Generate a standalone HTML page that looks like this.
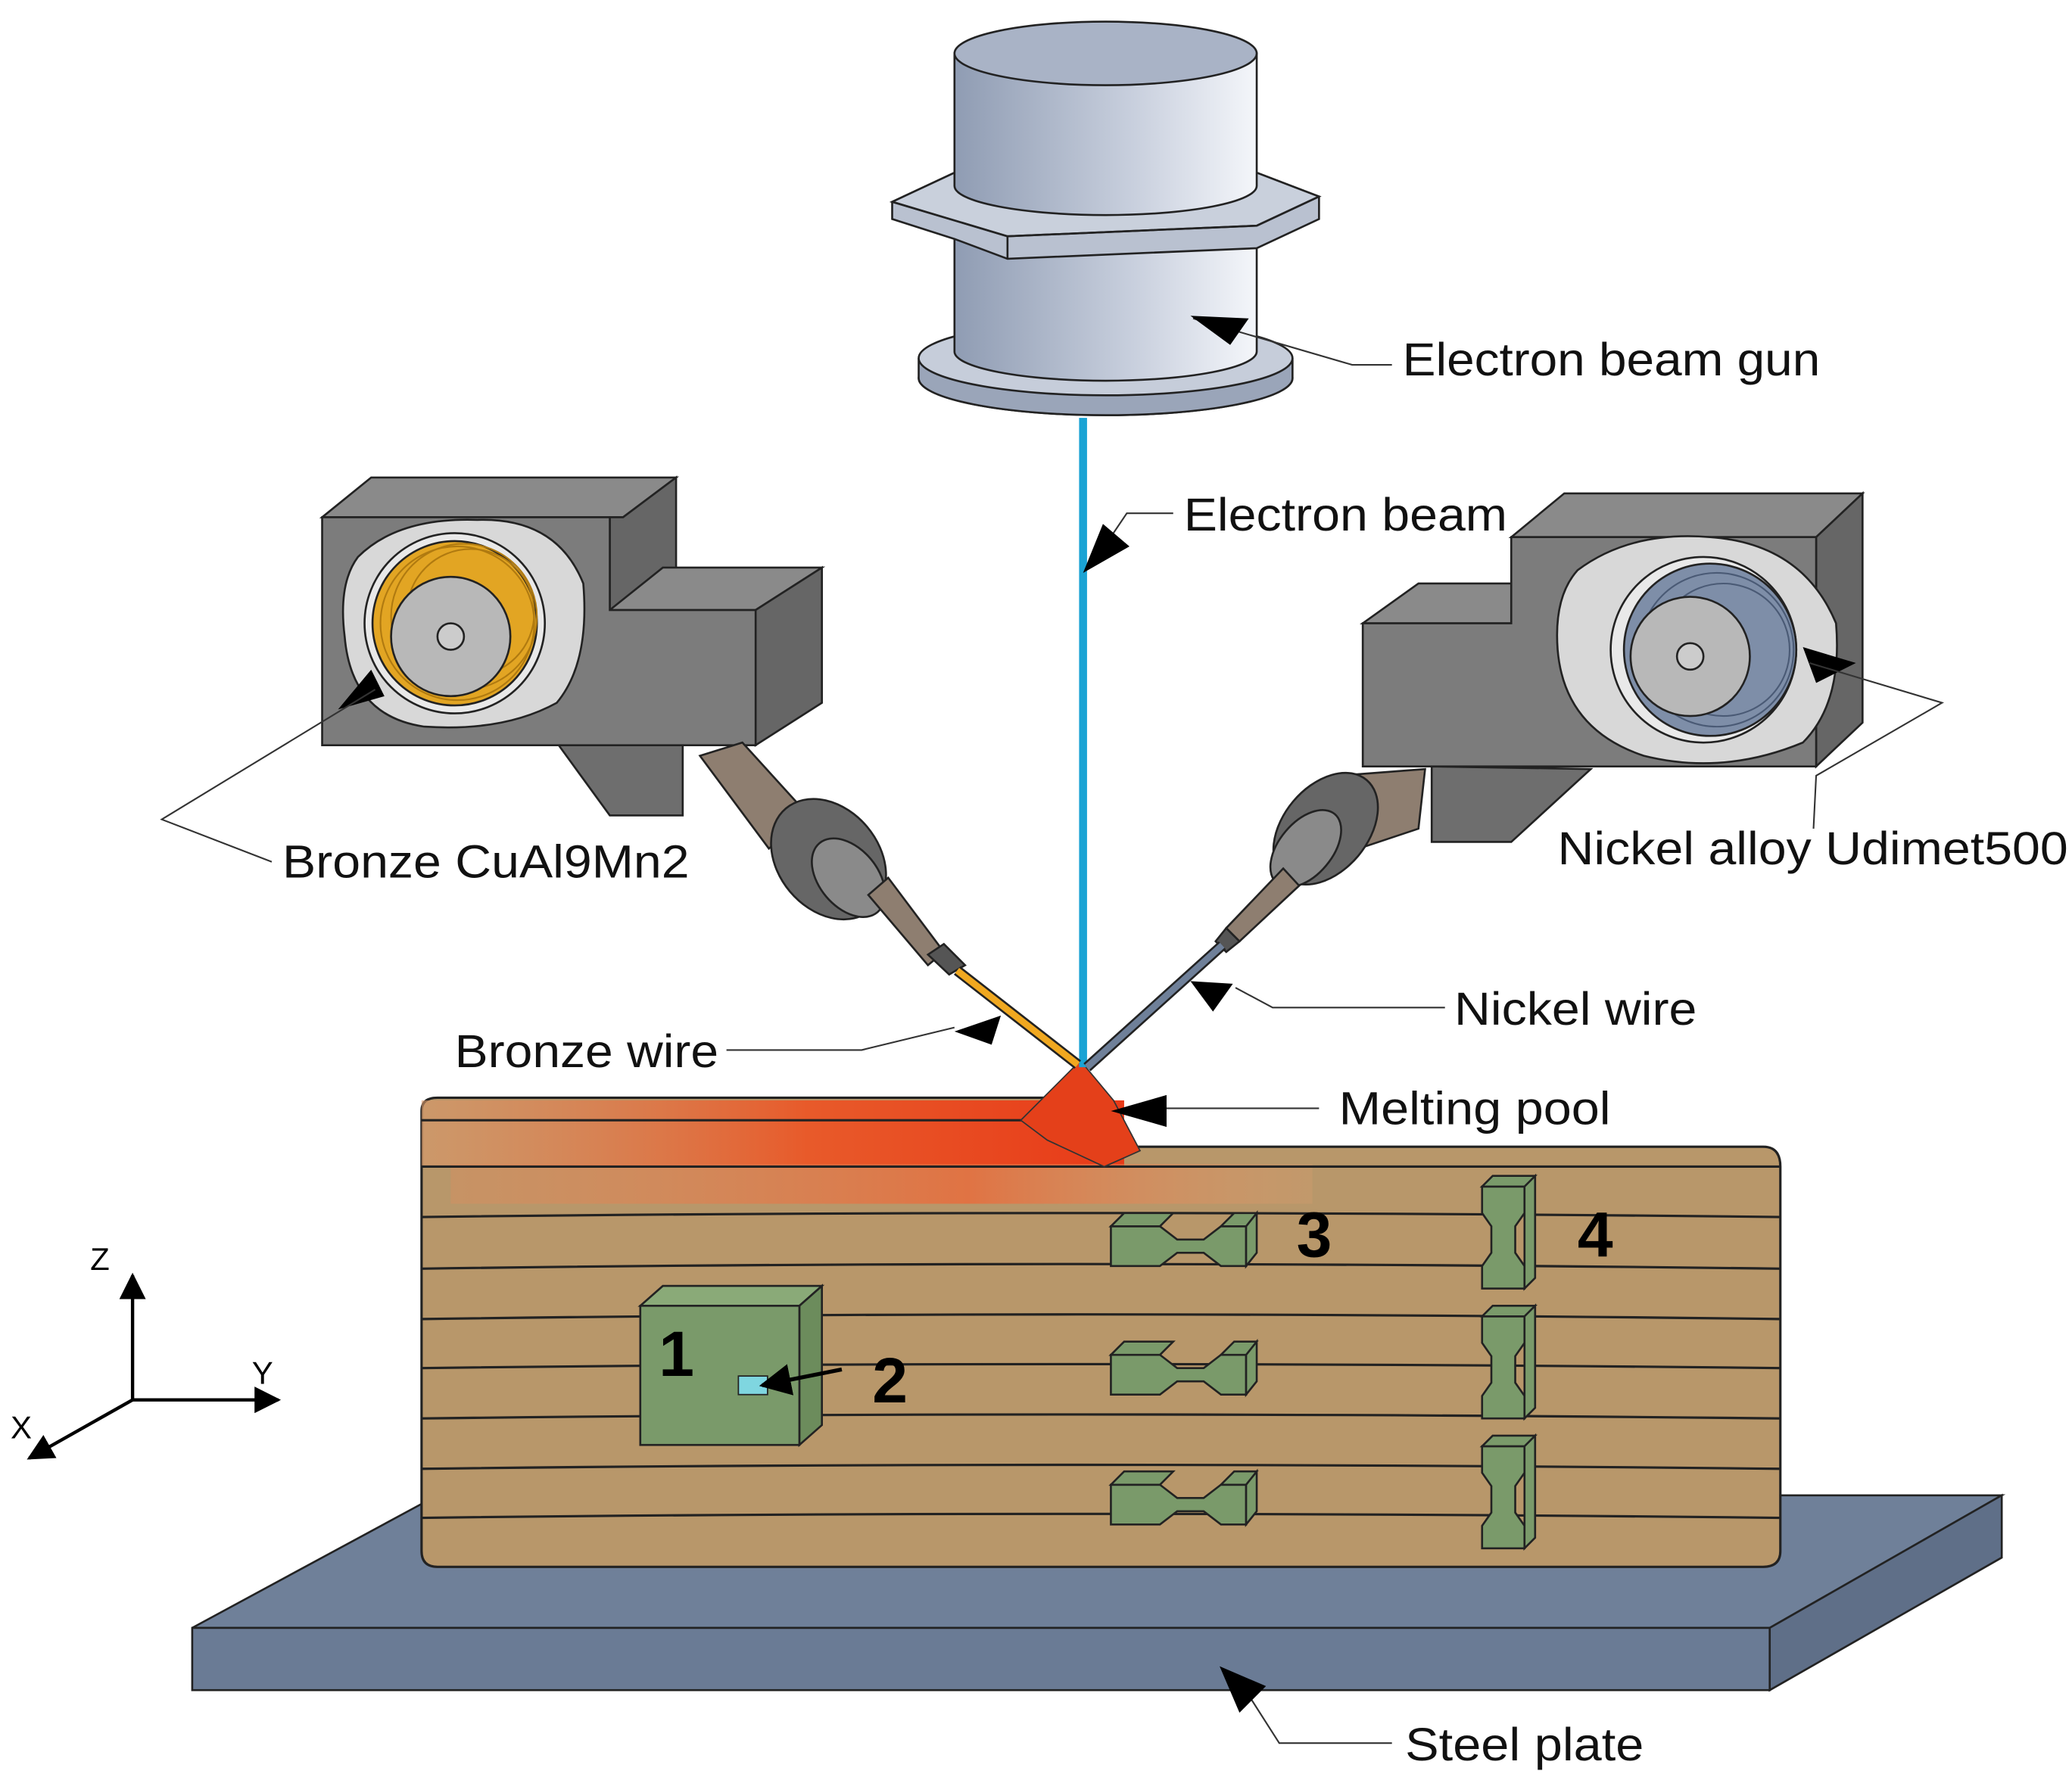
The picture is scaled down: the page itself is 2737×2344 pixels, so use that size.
<!DOCTYPE html>
<html><head><meta charset="utf-8"><style>
html,body{margin:0;padding:0;background:#fff;}
svg{display:block;}
text{font-family:"Liberation Sans",sans-serif;}
</style></head><body>
<svg width="2737" height="2344" viewBox="0 0 1563 1338" xmlns="http://www.w3.org/2000/svg">
<defs>
<linearGradient id="cyl" x1="0" x2="1"><stop offset="0" stop-color="#8f9cb3"/><stop offset="0.6" stop-color="#c9d0de"/><stop offset="1" stop-color="#f4f6fa"/></linearGradient>
<linearGradient id="hot" x1="0" x2="1"><stop offset="0" stop-color="#d9996a" stop-opacity="0.6"/><stop offset="0.55" stop-color="#e85a2a"/><stop offset="1" stop-color="#e83a18"/></linearGradient>
<linearGradient id="hot2" x1="0" x2="1"><stop offset="0" stop-color="#e88a5a" stop-opacity="0.3"/><stop offset="0.6" stop-color="#ea6a3a" stop-opacity="0.8"/><stop offset="1" stop-color="#e8a070" stop-opacity="0.2"/></linearGradient>
<marker id="ah" viewBox="0 0 10 10" refX="9" refY="5" markerWidth="8" markerHeight="8" orient="auto"><path d="M0,0L10,5L0,10z" fill="#000"/></marker>
</defs>
<rect width="1563" height="1338" fill="#fff"/>

<!-- steel plate -->
<polygon points="145,1228 330,1128 1510,1128 1335,1228" fill="#6f8099" stroke="#222" stroke-width="1.5"/>
<polygon points="145,1228 1335,1228 1335,1275 145,1275" fill="#6a7b95" stroke="#222" stroke-width="1.5"/>
<polygon points="1335,1228 1510,1128 1510,1175 1335,1275" fill="#5f6f88" stroke="#222" stroke-width="1.5"/>

<!-- block -->
<path d="M318,838 Q318,828 330,828 L790,828 L800,865 L1330,865 Q1343,865 1343,880 L1343,1170 Q1343,1182 1330,1182 L330,1182 Q318,1182 318,1170 Z" fill="#b8976a" stroke="#222" stroke-width="1.8"/>
<rect x="318" y="830" width="530" height="50" fill="url(#hot)"/>
<rect x="340" y="878" width="650" height="30" fill="url(#hot2)"/>
<g stroke="#222" stroke-width="1.8" fill="none">
<path d="M318,845 L780,845"/>
<path d="M318,880 L1343,880"/>
<path d="M318,918 Q800,912 1343,918"/>
<path d="M318,957 Q800,950 1343,957"/>
<path d="M318,995 Q800,988 1343,995"/>
<path d="M318,1032 Q800,1026 1343,1032"/>
<path d="M318,1070 Q800,1064 1343,1070"/>
<path d="M318,1108 Q800,1102 1343,1108"/>
<path d="M318,1145 Q800,1139 1343,1145"/>
</g>
<polygon points="815,800 770,845 790,860 833,880 860,868 840,830" fill="#e4401a" stroke="#333" stroke-width="1"/>

<!-- specimen 1 -->
<polygon points="483,985 500,970 620,970 603,985" fill="#8aaa78" stroke="#222" stroke-width="1.5"/>
<polygon points="603,985 620,970 620,1075 603,1090" fill="#6c8c5c" stroke="#222" stroke-width="1.5"/>
<rect x="483" y="985" width="120" height="105" fill="#7a9a6a" stroke="#222" stroke-width="1.5"/>
<rect x="557" y="1038" width="22" height="14" fill="#7fd6e0" stroke="#222"/>
<text x="497" y="1038" font-size="48" font-weight="bold">1</text>
<line x1="635" y1="1033" x2="575" y2="1045" stroke="#000" stroke-width="3" marker-end="url(#ah)"/>
<text x="658" y="1058" font-size="48" font-weight="bold">2</text>

<g fill="#7a9a6a" stroke="#222" stroke-width="1.5">
<path d="M838,925 L875,925 L888,935 L908,935 L921,925 L940,925 L940,955 L921,955 L908,945 L888,945 L875,955 L838,955 Z"/>
<path d="M838,925 L848,915 L885,915 L875,925 Z M921,925 L931,915 L948,915 L940,925 Z M940,925 L948,915 L948,945 L940,955 Z"/>
</g>
<g fill="#7a9a6a" stroke="#222" stroke-width="1.5" transform="translate(0,97)">
<path d="M838,925 L875,925 L888,935 L908,935 L921,925 L940,925 L940,955 L921,955 L908,945 L888,945 L875,955 L838,955 Z"/>
<path d="M838,925 L848,915 L885,915 L875,925 Z M921,925 L931,915 L948,915 L940,925 Z M940,925 L948,915 L948,945 L940,955 Z"/>
</g>
<g fill="#7a9a6a" stroke="#222" stroke-width="1.5" transform="translate(0,195)">
<path d="M838,925 L875,925 L888,935 L908,935 L921,925 L940,925 L940,955 L921,955 L908,945 L888,945 L875,955 L838,955 Z"/>
<path d="M838,925 L848,915 L885,915 L875,925 Z M921,925 L931,915 L948,915 L940,925 Z M940,925 L948,915 L948,945 L940,955 Z"/>
</g>
<text x="978" y="948" font-size="48" font-weight="bold">3</text>
<g fill="#7a9a6a" stroke="#222" stroke-width="1.5">
<path d="M1118,895 L1150,895 L1150,915 L1143,925 L1143,945 L1150,955 L1150,972 L1118,972 L1118,955 L1125,945 L1125,925 L1118,915 Z"/>
<path d="M1118,895 L1126,887 L1158,887 L1150,895 Z M1150,895 L1158,887 L1158,964 L1150,972 Z"/>
</g>
<g fill="#7a9a6a" stroke="#222" stroke-width="1.5" transform="translate(0,98)">
<path d="M1118,895 L1150,895 L1150,915 L1143,925 L1143,945 L1150,955 L1150,972 L1118,972 L1118,955 L1125,945 L1125,925 L1118,915 Z"/>
<path d="M1118,895 L1126,887 L1158,887 L1150,895 Z M1150,895 L1158,887 L1158,964 L1150,972 Z"/>
</g>
<g fill="#7a9a6a" stroke="#222" stroke-width="1.5" transform="translate(0,196)">
<path d="M1118,895 L1150,895 L1150,915 L1143,925 L1143,945 L1150,955 L1150,972 L1118,972 L1118,955 L1125,945 L1125,925 L1118,915 Z"/>
<path d="M1118,895 L1126,887 L1158,887 L1150,895 Z M1150,895 L1158,887 L1158,964 L1150,972 Z"/>
</g>
<text x="1190" y="948" font-size="48" font-weight="bold">4</text>

<g stroke="#000" stroke-width="2.5" fill="none">
<line x1="100" y1="1056" x2="100" y2="962" marker-end="url(#ah)"/>
<line x1="100" y1="1056" x2="210" y2="1056" marker-end="url(#ah)"/>
<line x1="100" y1="1056" x2="22" y2="1100" marker-end="url(#ah)"/>
</g>
<text x="68" y="958" font-size="24">Z</text>
<text x="190" y="1044" font-size="24">Y</text>
<text x="8" y="1085" font-size="24">X</text>

<line x1="817" y1="315" x2="817" y2="805" stroke="#1aa3d4" stroke-width="6"/>

<ellipse cx="834" cy="285" rx="141" ry="28" fill="#aab4c6" stroke="#222" stroke-width="1.5"/>
<path d="M693,270 L693,285 A141,28 0 0 0 975,285 L975,270" fill="#9aa5b9" stroke="#222" stroke-width="1.5"/>
<ellipse cx="834" cy="270" rx="141" ry="28" fill="#c6cdda" stroke="#222" stroke-width="1.5"/>
<path d="M720,170 L720,265 A114,22 0 0 0 948,265 L948,170 Z" fill="url(#cyl)" stroke="#222" stroke-width="1.5"/>
<polygon points="673,152 720,130 948,130 995,148 995,165 948,187 760,195 720,180 673,165" fill="#b9c1d0" stroke="#222" stroke-width="1.5"/>
<polygon points="673,152 720,130 948,130 995,148 948,170 760,178" fill="#c9d0dc" stroke="#222" stroke-width="1.5"/>
<polyline points="673,152 760,178 760,195" fill="none" stroke="#222" stroke-width="1.5"/>
<polyline points="760,178 948,170 995,148" fill="none" stroke="#222" stroke-width="1.5"/>
<path d="M720,40 L720,140 A114,22 0 0 0 948,140 L948,40 Z" fill="url(#cyl)" stroke="#222" stroke-width="1.5"/>
<ellipse cx="834" cy="40" rx="114" ry="24" fill="#a9b3c6" stroke="#222" stroke-width="1.5"/>

<g stroke="#222" stroke-width="1.5">
<polygon points="420,560 460,615 515,615 515,560" fill="#6e6e6e"/>
<polygon points="243,390 280,360 510,360 470,390" fill="#8a8a8a"/>
<polygon points="470,390 510,360 510,430 460,460 460,390" fill="#666"/>
<polygon points="460,460 500,428 620,428 570,460" fill="#8a8a8a"/>
<polygon points="570,460 620,428 620,530 570,562" fill="#666"/>
<polygon points="243,390 460,390 460,460 570,460 570,562 243,562" fill="#7c7c7c"/>
<path d="M270,420 Q300,390 360,392 Q420,390 440,440 Q445,500 420,530 Q380,552 320,548 Q265,540 260,480 Q255,440 270,420 Z" fill="#d8d8d8"/>
<circle cx="343" cy="470" r="68" fill="#e9e9e9"/>
<circle cx="343" cy="470" r="62" fill="#e2a523"/>
<g fill="none" stroke="#b07a10" stroke-width="1.2"><circle cx="350" cy="465" r="55"/><circle cx="355" cy="462" r="48"/><circle cx="345" cy="470" r="58"/></g>
<circle cx="340" cy="480" r="45" fill="#b8b8b8"/>
<circle cx="340" cy="480" r="10" fill="#ccc"/>
</g>
<polygon points="255,535 280,505 290,525" fill="#000"/>
<g stroke="#222" stroke-width="1.5">
<polygon points="528,570 560,560 610,615 580,640" fill="#8e7e70"/>
<ellipse cx="625" cy="648" rx="38" ry="50" transform="rotate(-40 625 648)" fill="#666"/>
<ellipse cx="640" cy="662" rx="22" ry="34" transform="rotate(-40 640 662)" fill="#8a8a8a"/>
<polygon points="655,675 670,662 712,718 700,728" fill="#8e7e70"/>
<polygon points="700,720 712,712 728,728 716,735" fill="#555"/>
</g>
<line x1="722" y1="732" x2="813" y2="803" stroke="#222" stroke-width="8"/>
<line x1="722" y1="732" x2="813" y2="803" stroke="#f0a820" stroke-width="5"/>

<g stroke="#222" stroke-width="1.5">
<polygon points="1080,578 1080,635 1140,635 1200,580" fill="#6e6e6e"/>
<polygon points="1028,470 1070,440 1140,440 1140,470" fill="#8a8a8a"/>
<polygon points="1140,405 1180,372 1405,372 1370,405" fill="#8a8a8a"/>
<polygon points="1370,405 1405,372 1405,545 1370,578" fill="#666"/>
<polygon points="1028,470 1140,470 1140,405 1370,405 1370,578 1028,578" fill="#7c7c7c"/>
<path d="M1190,430 Q1230,400 1290,405 Q1360,410 1385,470 Q1390,530 1360,560 Q1300,585 1240,570 Q1180,550 1175,490 Q1172,450 1190,430 Z" fill="#d8d8d8"/>
<circle cx="1285" cy="490" r="70" fill="#e9e9e9"/>
<circle cx="1290" cy="490" r="65" fill="#7e8ea8"/>
<g fill="none" stroke="#4a5a75" stroke-width="1.2"><circle cx="1295" cy="490" r="58"/><circle cx="1300" cy="490" r="50"/></g>
<circle cx="1275" cy="495" r="45" fill="#b8b8b8"/>
<circle cx="1275" cy="495" r="10" fill="#ccc"/>
</g>
<polygon points="1360,488 1400,500 1370,515" fill="#000"/>
<g stroke="#222" stroke-width="1.5">
<polygon points="1010,585 1075,580 1070,625 1025,640" fill="#8e7e70"/>
<ellipse cx="1000" cy="625" rx="32" ry="48" transform="rotate(40 1000 625)" fill="#666"/>
<ellipse cx="985" cy="640" rx="20" ry="34" transform="rotate(40 985 640)" fill="#8a8a8a"/>
<polygon points="968,655 980,668 935,710 925,700" fill="#8e7e70"/>
<polygon points="925,700 935,710 925,718 917,710" fill="#555"/>
</g>
<line x1="922" y1="713" x2="820" y2="805" stroke="#222" stroke-width="8"/>
<line x1="922" y1="713" x2="820" y2="805" stroke="#6f8099" stroke-width="5"/>

<g fill="none" stroke="#333" stroke-width="1.2">
<polyline points="900,240 1020,275 1050,275"/>
<polyline points="823,427 850,387 885,387"/>
<polyline points="283,520 122,618 205,650"/>
<polyline points="1365,500 1465,530 1370,585 1368,625"/>
<polyline points="548,792 650,792 720,775"/>
<polyline points="932,745 960,760 1090,760"/>
<polyline points="860,836 995,836"/>
<polyline points="935,1268 965,1315 1050,1315"/>
</g>
<g fill="#000">
<polygon points="898,238 942,240 928,260"/>
<polygon points="817,432 832,395 852,412"/>
<polygon points="720,778 755,766 748,788"/>
<polygon points="930,742 898,740 915,763"/>
<polygon points="838,838 880,826 880,850"/>
<polygon points="920,1257 955,1272 935,1292"/>
</g>

<g font-size="35" fill="#111" lengthAdjust="spacingAndGlyphs">
<text x="1058" y="283" textLength="315" lengthAdjust="spacingAndGlyphs">Electron beam gun</text>
<text x="893" y="400" textLength="244" lengthAdjust="spacingAndGlyphs">Electron beam</text>
<text x="213" y="662" textLength="307" lengthAdjust="spacingAndGlyphs">Bronze CuAl9Mn2</text>
<text x="1175" y="652" textLength="385" lengthAdjust="spacingAndGlyphs">Nickel alloy Udimet500</text>
<text x="343" y="805" textLength="199" lengthAdjust="spacingAndGlyphs">Bronze wire</text>
<text x="1097" y="773" textLength="183" lengthAdjust="spacingAndGlyphs">Nickel wire</text>
<text x="1010" y="848" textLength="205" lengthAdjust="spacingAndGlyphs">Melting pool</text>
<text x="1060" y="1328" textLength="180" lengthAdjust="spacingAndGlyphs">Steel plate</text>
</g>
</svg>
</body></html>
